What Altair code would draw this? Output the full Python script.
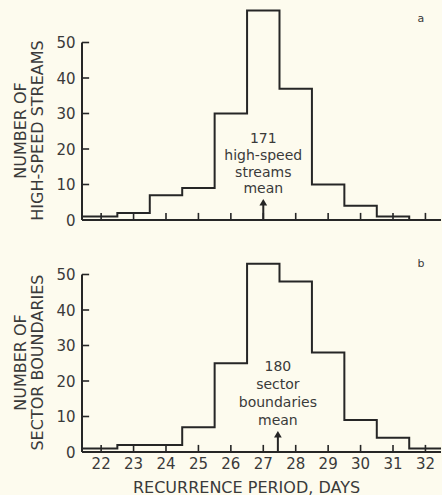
import altair as alt
import pandas as pd

# ---- data ----
days = [22, 23, 24, 25, 26, 27, 28, 29, 30, 31, 32]          # bin centres (days)
streams = [1, 2, 7, 9, 30, 59, 37, 10, 4, 1, 0]               # panel a counts
boundaries = [1, 2, 2, 7, 25, 53, 48, 28, 9, 4, 1]            # panel b counts
y_ticks = [0, 10, 20, 30, 40, 50]
mean_streams = 27.0
mean_boundaries = 27.45
note_a = ["171", "high-speed", "streams", "mean"]
note_b = ["180", "sector", "boundaries", "mean"]

# ---- styling constants ----
FONT = "DejaVu Sans"
INK = "#262626"
TXT = "#3a3a3a"
BG = "#fdfbee"
XMIN, XMAX = 21.41, 32.48
W, H = 359, 213


def outline(values):
    rows = []
    k = 0
    for i, (d, v) in enumerate(zip(days, values)):
        left = d - 0.5 if i > 0 else d - 1.0
        rows.append({"x": left, "y": v, "o": k}); k += 1
        rows.append({"x": d + 0.5, "y": v, "o": k}); k += 1
    return pd.DataFrame(rows)


def panel(values, mean, note, note_y, note_lh, letter, letter_y, y_title, bottom):
    xscale = alt.Scale(domain=[XMIN, XMAX], nice=False, zero=False)
    yscale = alt.Scale(domain=[0, 60], nice=False)
    if bottom:
        xaxis = alt.Axis(domain=False, ticks=False, grid=False, labels=False,
                         title="RECURRENCE PERIOD, DAYS",
                         titleFont=FONT, titleFontSize=16, titleFontWeight="normal",
                         titleColor=TXT, titlePadding=27, titleX=164,
                         titleAlign="center")
    else:
        xaxis = None
    yaxis = alt.Axis(values=y_ticks, domain=False, ticks=False, grid=False,
                     labelPadding=7, labelFontSize=15, labelFont=FONT,
                     labelColor=TXT, labelOverlap=False, title=y_title,
                     titleFont=FONT, titleFontSize=16, titleFontWeight="normal",
                     titleColor=TXT, titleLineHeight=17, titlePadding=10,
                     titleY=123)

    hist = alt.Chart(outline(values)).mark_line(
        color=INK, strokeWidth=2, clip=True, interpolate="linear"
    ).encode(
        x=alt.X("x:Q", scale=xscale, axis=xaxis),
        y=alt.Y("y:Q", scale=yscale, axis=yaxis),
        order="o:Q",
    )

    one = alt.Chart(pd.DataFrame({"k": [0]}))
    xline = one.mark_rule(color=INK, strokeWidth=2).encode(
        x=alt.datum(XMIN), x2=alt.datum(XMAX), y=alt.datum(0)
    )
    yline = one.mark_rule(color=INK, strokeWidth=2).encode(
        x=alt.datum(XMIN), y=alt.datum(0), y2=alt.datum(50)
    )
    dayframe = alt.Chart(pd.DataFrame({"d": days}))
    xt = dayframe.mark_rule(color=INK, strokeWidth=1.6).encode(
        x=alt.X("d:Q", scale=xscale, axis=xaxis),
        y=alt.datum(0), y2=alt.datum(2))
    yt = alt.Chart(pd.DataFrame({"v": y_ticks[1:]})).mark_rule(
        color=INK, strokeWidth=1.6
    ).encode(y=alt.Y("v:Q", scale=yscale, axis=yaxis),
             x=alt.datum(XMIN), x2=alt.datum(XMIN + 0.22))

    shaft = one.mark_rule(color=INK, strokeWidth=2).encode(
        x=alt.datum(mean), y=alt.datum(0), y2=alt.datum(4.5)
    )
    head = one.mark_point(shape="triangle-up", filled=True, color=INK,
                          size=60, opacity=1).encode(
        x=alt.datum(mean), y=alt.datum(5.0)
    )
    text = one.mark_text(font=FONT, fontSize=14, fontWeight="normal", color=TXT,
                         lineHeight=note_lh, baseline="alphabetic",
                         align="center").encode(
        x=alt.datum(mean), y=alt.datum(note_y), text=alt.value(note)
    )
    lab = one.mark_text(font=FONT, fontSize=11, fontWeight="normal", color=TXT,
                        align="center", baseline="middle").encode(
        x=alt.datum(31.86), y=alt.datum(letter_y), text=alt.value(letter)
    )
    layers = [hist, xt, yt, xline, yline, shaft, head, text, lab]
    if bottom:
        xlab = dayframe.mark_text(font=FONT, fontSize=15, fontWeight="normal",
                                  color=TXT, align="center", baseline="top",
                                  dy=5).encode(
            x=alt.X("d:Q", scale=xscale, axis=xaxis),
            y=alt.datum(0), text=alt.Text("d:Q", format="d"))
        layers.append(xlab)
    return alt.layer(*layers).properties(width=W, height=H)


top = panel(streams, mean_streams, note_a, 21.6, 16.7, "a", 56.6,
            ["NUMBER OF", "HIGH-SPEED STREAMS"], False)
bot = panel(boundaries, mean_boundaries, note_b, 22.7, 18, "b", 52.9,
            ["NUMBER OF", "SECTOR BOUNDARIES"], True)

chart = alt.vconcat(top, bot, spacing=11).properties(
    padding={"left": 12, "top": 7, "right": 0, "bottom": 0}
).configure(background=BG).configure_view(stroke=None)

chart.save("out.html", embed_options={"renderer": "svg", "actions": False})
